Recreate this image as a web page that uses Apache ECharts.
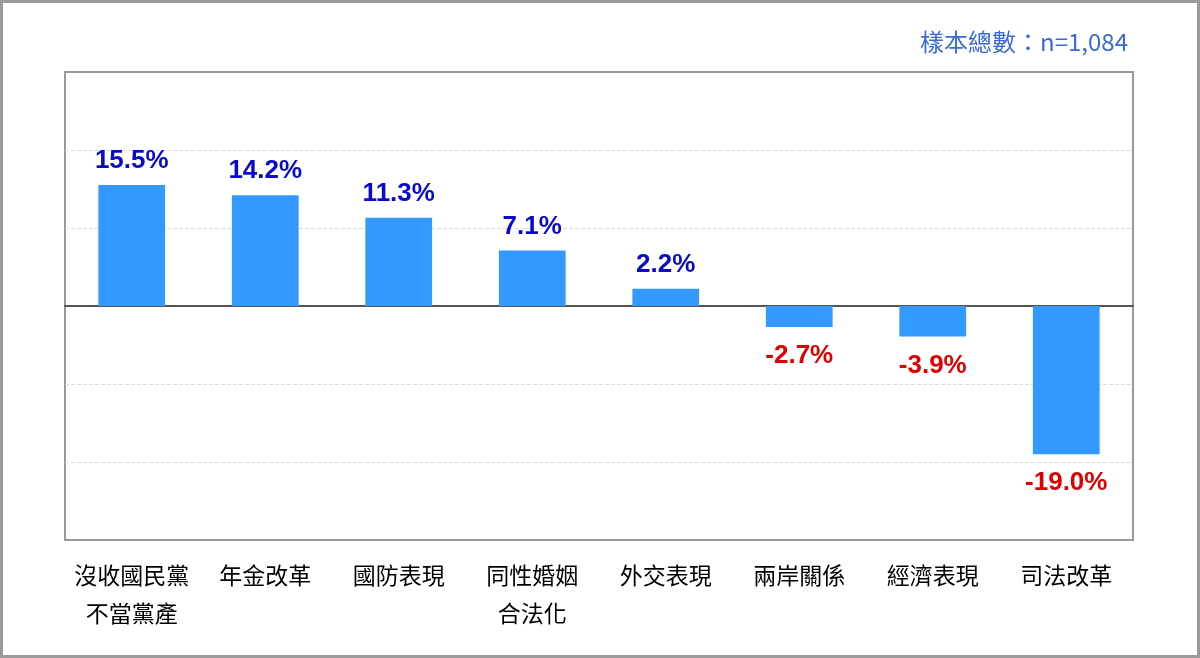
<!DOCTYPE html>
<html>
<head>
<meta charset="utf-8">
<script src="https://cdn.jsdelivr.net/npm/echarts@6/dist/echarts.min.js"></script>
<style>
  html, body { margin: 0; padding: 0; background: #fff; }
  #main { width: 1200px; height: 658px; }
</style>
</head>
<body>
<div id="main"></div>
<script>
// 資料
var categories = ['沒收國民黨\n不當黨產', '年金改革', '國防表現', '同性婚姻\n合法化', '外交表現', '兩岸關係', '經濟表現', '司法改革'];
var values = [15.5, 14.2, 11.3, 7.1, 2.2, -2.7, -3.9, -19.0];
var sampleNote = '樣本總數：n=1,084';

var myChart = echarts.init(document.getElementById('main'));

var barData = values.map(function (v) {
  var neg = v < 0;
  return {
    value: v,
    label: {
      position: neg ? 'bottom' : 'top',
      distance: neg ? 16 : 11,
      color: neg ? '#E00000' : '#0A0ACC'
    }
  };
});

var option = {
  backgroundColor: '#fff',
  animation: false,
  title: {
    text: sampleNote,
    right: 67,
    top: 25,
    textStyle: {
      fontFamily: 'Noto Sans CJK TC',
      fontSize: 24,
      fontWeight: 'normal',
      color: '#3A6AD4'
    }
  },
  graphic: [{
    type: 'rect',
    shape: { x: 1.5, y: 1.5, width: 1197, height: 655 },
    style: { fill: 'none', stroke: '#9a9a9a', lineWidth: 3 },
    silent: true
  }],
  grid: {
    left: 65,
    right: 67,
    top: 72,
    bottom: 118,
    show: true,
    borderColor: '#999',
    borderWidth: 2
  },
  xAxis: {
    type: 'category',
    data: categories,
    axisLine: { onZero: true, lineStyle: { color: '#555', width: 2 } },
    axisTick: { show: false },
    axisLabel: {
      interval: 0,
      margin: 16,
      fontFamily: 'Noto Sans CJK TC',
      fontSize: 23,
      lineHeight: 38,
      color: '#000'
    }
  },
  yAxis: {
    type: 'value',
    min: -30,
    max: 30,
    interval: 10,
    axisLine: { show: false },
    axisTick: { show: false },
    axisLabel: { show: false },
    splitLine: {
      showMinLine: false,
      showMaxLine: false,
      lineStyle: { color: '#dcdcdc', type: 'dashed', width: 1 }
    }
  },
  series: [{
    type: 'bar',
    data: barData,
    barWidth: '50%',
    itemStyle: { color: '#3399FF' },
    label: {
      show: true,
      fontFamily: 'Liberation Sans',
      fontWeight: 'bold',
      fontSize: 26,
      formatter: function (p) { return p.value.toFixed(1) + '%'; }
    }
  }]
};

myChart.setOption(option);
</script>
</body>
</html>
